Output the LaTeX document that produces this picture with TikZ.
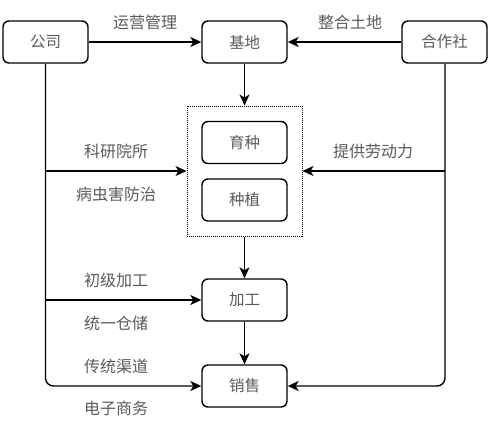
\documentclass[tikz,border=0pt]{standalone}
\usepackage{fontspec}
\setmainfont{Noto Sans CJK SC}
\usetikzlibrary{arrows.meta}
\definecolor{txt}{HTML}{5A5A5A}
\begin{document}
\begin{tikzpicture}[x=1pt,y=-1pt,
  box/.style={draw=black,line width=1.4pt,rounded corners=6pt,minimum width=85pt,minimum height=42pt,inner sep=0pt,font=\fontsize{15.5}{16}\selectfont,text=txt},
  lbl/.style={font=\fontsize{16}{16}\selectfont,text=txt,inner sep=0pt},
  conn/.style={line width=1.4pt,-{Stealth[length=11pt,width=10pt,inset=3pt]}},
  plain/.style={line width=1.4pt}]
\useasboundingbox (0,0) rectangle (490,421);
\node[box] (gs) at (45.5,42) {公司};
\node[box] (jd) at (244.5,42) {基地};
\node[box] (hzs) at (444.5,42) {合作社};
\node[draw=black,densely dotted,line width=1pt,minimum width=115pt,minimum height=130pt,inner sep=0pt] (ct) at (244.5,171) {};
\node[box] (yz) at (244.5,142.5) {育种};
\node[box] (zz) at (244.5,200) {种植};
\node[box] (jg) at (244.5,300) {加工};
\node[box] (xs) at (244.5,386) {销售};
\coordinate (lb) at (45.5,386);
\coordinate (rb) at (445,386);
\coordinate (l1) at (45.5,171);
\coordinate (l2) at (45.5,300);
\coordinate (r1) at (445,171);
\draw[conn] (gs) -- (jd);
\draw[conn] (hzs) -- (jd);
\draw[conn] (jd) -- (ct);
\draw[conn] (ct) -- (jg);
\draw[conn] (jg) -- (xs);
\draw[conn,rounded corners=8pt] (gs.south) -- (lb) -- (xs.west);
\draw[conn,rounded corners=8pt] (hzs.south -| rb) -- (rb) -- (xs.east);
\draw[conn] (l1) -- (ct.west);
\draw[conn] (l2) -- (jg.west);
\draw[conn] (r1) -- (ct.east);
\node[lbl] (t1) at (145,22) {运营管理};
\node[lbl] (t2) at (350,22) {整合土地};
\node[lbl] (t3) at (116,151) {科研院所};
\node[lbl] (t4) at (116,194) {病虫害防治};
\node[lbl] (t5) at (373,151) {提供劳动力};
\node[lbl] (t6) at (116,280) {初级加工};
\node[lbl] (t7) at (116,323) {统一仓储};
\node[lbl] (t8) at (116,366) {传统渠道};
\node[lbl] (t9) at (116,408) {电子商务};
\end{tikzpicture}
\end{document}
